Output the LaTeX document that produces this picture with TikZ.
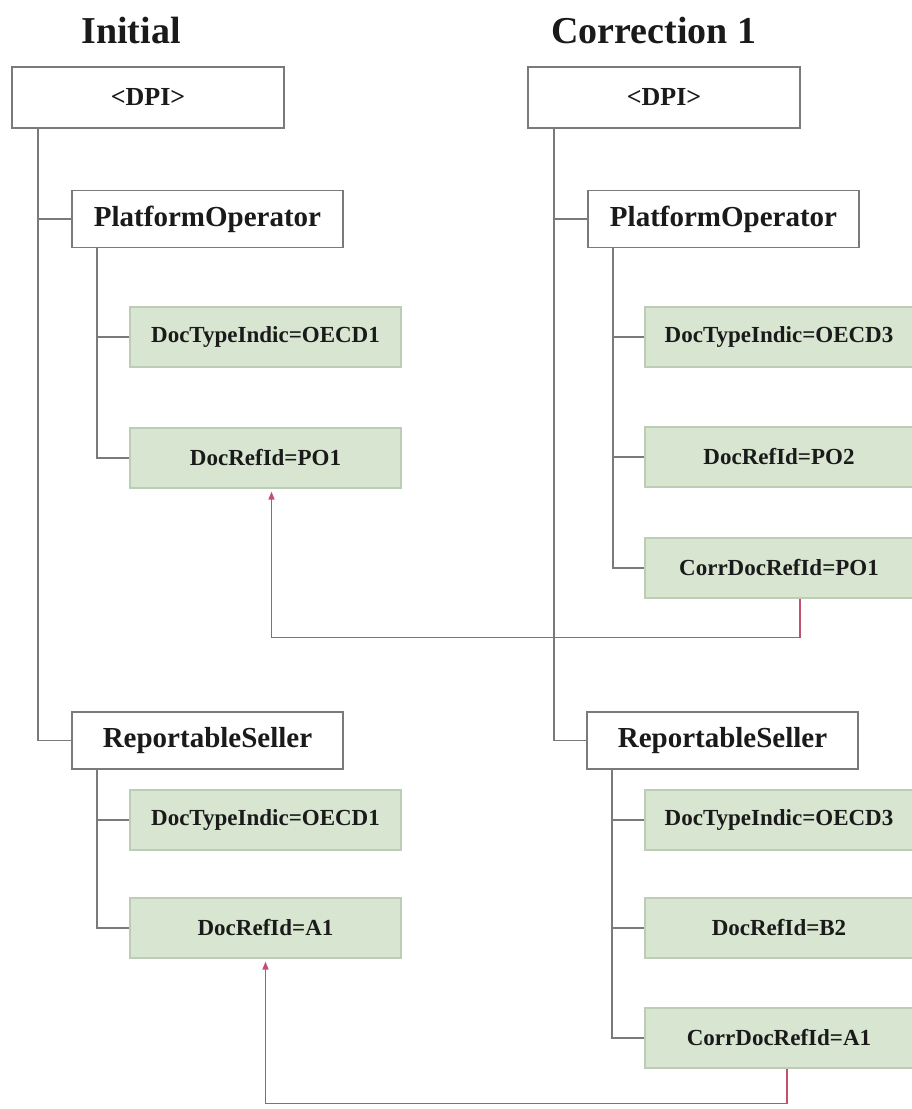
\documentclass[tikz,border=0pt]{standalone}
\usepackage{fontspec}
\setmainfont{Liberation Serif}
\usepackage{tikz}
\usetikzlibrary{positioning,arrows.meta,calc}
\definecolor{frame}{HTML}{7A7A7A}
\definecolor{leaffill}{HTML}{D7E5D1}
\definecolor{leafline}{HTML}{BCCDB6}
\definecolor{linkred}{HTML}{C2506E}
\definecolor{ink}{HTML}{1A1A1A}

\begin{document}
\begin{tikzpicture}[x=1pt,y=-1pt,
    title/.style={font=\fontsize{38}{40}\selectfont\bfseries,text=ink,anchor=base},
    root/.style={draw=frame,line width=1.8pt,fill=white,minimum width=272pt,
                 minimum height=61pt,inner sep=0pt,font=\fontsize{26}{28}\selectfont\bfseries,text=ink},
    elem/.style={draw=frame,line width=1.8pt,fill=white,minimum width=271pt,
                 minimum height=57pt,inner sep=0pt,font=\fontsize{29}{31}\selectfont\bfseries,text=ink},
    leaf/.style={draw=leafline,line width=1.2pt,fill=leaffill,minimum width=271pt,
                 minimum height=60pt,inner sep=0pt,font=\fontsize{23}{25}\selectfont\bfseries,text=ink},
    tree/.style={draw=frame,line width=1.8pt},
    link/.style={draw=linkred,line width=1.5pt,-{Triangle[length=8pt,width=6pt]},shorten >=3pt}]
  \useasboundingbox (0,0) rectangle (912,1109);

  % initial message
  \node[title] (tInit) at (131,43) {Initial};
  \node[root] (dpiL) at (148,97.5) {<DPI>};
  \node[elem] (poL) at (207.5,219) {PlatformOperator};
  \node[leaf] (tiPoL) at (265.5,337) {DocTypeIndic=OECD1};
  \node[leaf] (refPoL) at (265.5,458) {DocRefId=PO1};
  \node[elem] (rsL) at (207.5,740.5) {ReportableSeller};
  \node[leaf] (tiRsL) at (265.5,820) {DocTypeIndic=OECD1};
  \node[leaf] (refRsL) at (265.5,928) {DocRefId=A1};

  % correction message
  \node[title] (tCorr) at (654,43) {Correction 1};
  \node[root] (dpiR) at (664,97.5) {<DPI>};
  \node[elem] (poR) at (723.5,219) {PlatformOperator};
  \node[leaf, minimum width=268pt] (tiPoR) at (779,337) {DocTypeIndic=OECD3};
  \node[leaf, minimum width=268pt] (refPoR) at (779,457) {DocRefId=PO2};
  \node[leaf, minimum width=268pt] (corrPoR) at (779,568) {CorrDocRefId=PO1};
  \node[elem] (rsR) at (722.5,740.5) {ReportableSeller};
  \node[leaf, minimum width=268pt] (tiRsR) at (779,820) {DocTypeIndic=OECD3};
  \node[leaf, minimum width=268pt] (refRsR) at (779,928) {DocRefId=B2};
  \node[leaf, minimum width=268pt] (corrRsR) at (779,1038) {CorrDocRefId=A1};

  % tree lines
  \draw[tree] ([xshift=27pt]dpiL.south west) |- (poL.west);
  \draw[tree] ([xshift=27pt]dpiL.south west) |- (rsL.west);
  \draw[tree] ([xshift=26pt]poL.south west) |- (tiPoL.west);
  \draw[tree] ([xshift=26pt]poL.south west) |- (refPoL.west);
  \draw[tree] ([xshift=26pt]rsL.south west) |- (tiRsL.west);
  \draw[tree] ([xshift=26pt]rsL.south west) |- (refRsL.west);

  \draw[tree] ([xshift=27pt]dpiR.south west) |- (poR.west);
  \draw[tree] ([xshift=27pt]dpiR.south west) |- (rsR.west);
  \draw[tree] ([xshift=26pt]poR.south west) |- (tiPoR.west);
  \draw[tree] ([xshift=26pt]poR.south west) |- (refPoR.west);
  \draw[tree] ([xshift=26pt]poR.south west) |- (corrPoR.west);
  \draw[tree] ([xshift=26pt]rsR.south west) |- (tiRsR.west);
  \draw[tree] ([xshift=26pt]rsR.south west) |- (refRsR.west);
  \draw[tree] ([xshift=26pt]rsR.south west) |- (corrRsR.west);

  % correction references
  \draw[link] ([xshift=21pt]corrPoR.south) -- ++(0,39) -| ([xshift=6pt]refPoL.south);
  \draw[link] ([xshift=8pt]corrRsR.south) -- ++(0,35) -| (refRsL.south);
\end{tikzpicture}
\end{document}
